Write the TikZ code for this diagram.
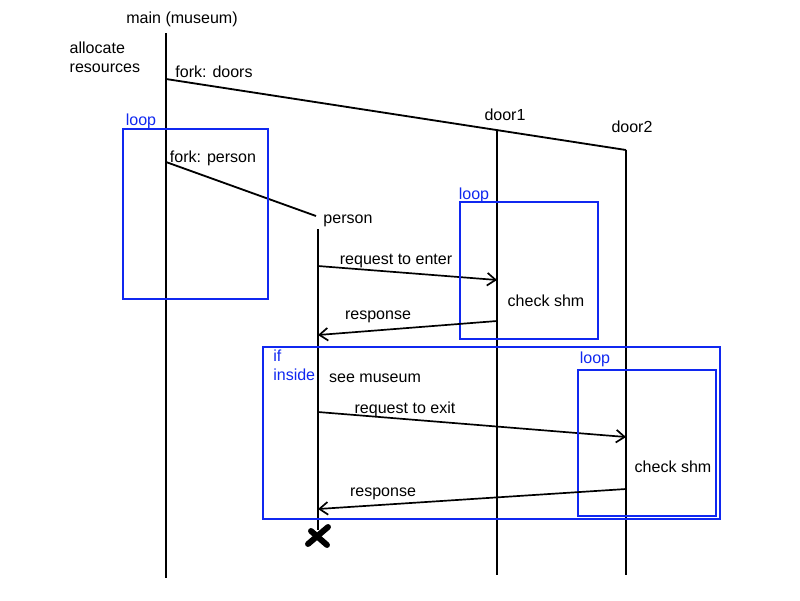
\documentclass[tikz,border=0pt]{standalone}
\usepackage{fontspec}
\setmainfont{Liberation Sans}
\usetikzlibrary{arrows.meta}
\definecolor{frameblue}{RGB}{16,40,240}

\begin{document}
\begin{tikzpicture}[
    x=0.025cm, y=-0.025cm,
    every node/.style={font=\fontsize{11.4}{13.6}\selectfont, inner sep=1pt},
    lifeline/.style={draw=black, line width=1.4pt},
    forkline/.style={draw=black, line width=1.3pt},
    msg/.style={-{Straight Barb[length=6pt, width=9pt]}, draw=black, line width=1.2pt},
    frame/.style={draw=frameblue, line width=1.4pt},
    framelabel/.style={text=frameblue, align=left}
]
\useasboundingbox (0,0) rectangle (800,600);

% Lifeline heads
\node (mainhead) at (182,19) {main (museum)};
\node (door1head) at (505,115) {door1};
\node (door2head) at (632,127) {door2};
\node (personhead) at (348,221) {person};
\node[anchor=west, align=left] (alloc) at (68,57) {allocate\\resources};

% Lifelines
\coordinate (mainstart) at (166,33);
\coordinate (mainend) at (166,578);
\coordinate (door1start) at (497,130);
\coordinate (door1end) at (497,575);
\coordinate (door2start) at (626,150);
\coordinate (door2end) at (626,575);
\coordinate (personstart) at (318,229);
\coordinate (personend) at (318,530);
\draw[lifeline] (mainstart) -- (mainend);
\draw[lifeline] (door1start) -- (door1end);
\draw[lifeline] (door2start) -- (door2end);
\draw[lifeline] (personstart) -- (personend);

% Forks
\coordinate (forkdoors) at (166,79);
\coordinate (forkperson) at (166,162);
\coordinate (personfork) at (316,216);
\draw[forkline] (forkdoors) -- (door2start);
\draw[forkline] (forkperson) -- (personfork);
\node (forkdoorslabel) at (214,72) {fork: doors};
\node (forkpersonlabel) at (213,158) {fork: person};

% Loop around fork: person
\draw[frame] (123,129) rectangle (268,299);
\node[framelabel] (loopa) at (141,121) {loop};

% Enter request
\coordinate (enterfrom) at (318,266);
\coordinate (enterto) at (497,280);
\draw[msg] (enterfrom) -- (enterto);
\node (enterlabel) at (396,261) {request to enter};
\draw[frame] (460,202) rectangle (598,339);
\node[framelabel] (loopb) at (474,195) {loop};
\node (checka) at (546,301) {check shm};
\coordinate (respafrom) at (497,321);
\coordinate (respato) at (318,335);
\draw[msg] (respafrom) -- (respato);
\node (respalabel) at (378,317) {response};

% If inside
\draw[frame] (263,347) rectangle (720,519);
\node[framelabel, anchor=north west, inner sep=0pt] (ifinside) at (273,350) {if\\[-0.5pt]inside};
\node (seemuseum) at (375,378) {see museum};

% Exit request
\coordinate (exitfrom) at (318,412);
\coordinate (exitto) at (626,437);
\draw[msg] (exitfrom) -- (exitto);
\node (exitlabel) at (405,409) {request to exit};
\draw[frame] (578,370) rectangle (716,516);
\node[framelabel] (loopc) at (595,359) {loop};
\node (checkb) at (673,467) {check shm};
\coordinate (respbfrom) at (626,489);
\coordinate (respbto) at (318,509);
\draw[msg] (respbfrom) -- (respbto);
\node (respblabel) at (383,494) {response};

% Person terminates
\coordinate (personx) at (318,537);
\draw[line width=4.2pt, line cap=round] ([shift={(10,-10)}]personx) -- ([shift={(-10,7)}]personx);
\draw[line width=4.2pt, line cap=round] ([shift={(-7,-6)}]personx) -- ([shift={(9,8)}]personx);

\end{tikzpicture}
\end{document}
